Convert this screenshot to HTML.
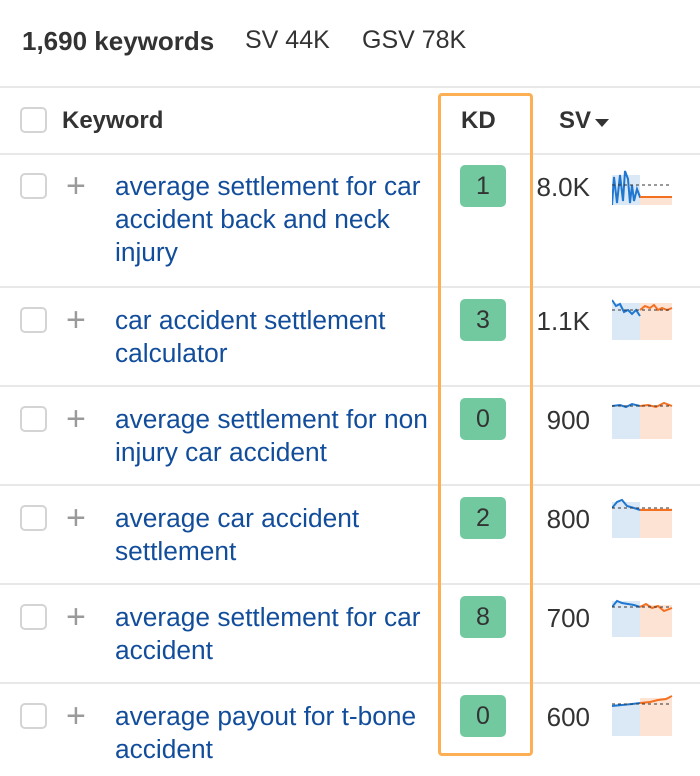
<!DOCTYPE html>
<html><head><meta charset="utf-8"><style>
*{margin:0;padding:0;box-sizing:border-box}
body{width:700px;height:776px;background:#fff;font-family:"Liberation Sans",Arial,sans-serif;position:relative;overflow:hidden;color:#333}
.a{position:absolute}
.hr{position:absolute;left:0;width:700px;height:2px;background:#e8e8e8}
.cb{position:absolute;left:20px;width:27px;height:26px;border:2px solid #d4d4d4;border-radius:5px;background:#fff}
.pl{position:absolute;left:66px;font-size:34px;color:#9a9a9a;line-height:30px;font-weight:300}
.kw{position:absolute;left:115px;font-size:26.3px;line-height:33px;color:#124d9b}
.kd{position:absolute;left:460px;width:46px;height:42px;background:#72c9a0;border-radius:5px;font-size:25px;line-height:42px;text-align:center;color:#333}
.sv{position:absolute;right:110px;font-size:26px;color:#333}
.sp{position:absolute;left:612px}
</style></head><body>
<div class="a" style="left:22px;top:26px;font-size:26px;font-weight:bold">1,690 keywords</div>
<div class="a" style="left:245px;top:26px;font-size:25px">SV 44K</div>
<div class="a" style="left:362px;top:26px;font-size:25px">GSV 78K</div>
<div class="hr" style="top:86px"></div>
<div class="cb" style="top:107px"></div>
<div class="a" style="left:62px;top:107px;font-size:24px;font-weight:bold">Keyword</div>
<div class="a" style="left:461px;top:107px;font-size:24px;font-weight:bold">KD</div>
<div class="a" style="left:559px;top:107px;font-size:24px;font-weight:bold">SV</div>
<div class="a" style="left:595px;top:119px;width:0;height:0;border-left:7px solid transparent;border-right:7px solid transparent;border-top:8px solid #333"></div>
<div class="hr" style="top:153px"></div>
<div class="hr" style="top:286px"></div>
<div class="hr" style="top:385px"></div>
<div class="hr" style="top:484px"></div>
<div class="hr" style="top:583px"></div>
<div class="hr" style="top:682px"></div>

<div class="cb" style="top:173px"></div><div class="pl" style="top:171px">+</div>
<div class="kw" style="top:170px">average settlement for car<br>accident back and neck<br>injury</div>
<div class="kd" style="top:165px">1</div><div class="sv" style="top:172px">8.0K</div>
<svg class="sp" style="top:165px" width="62" height="42"><rect x="0" y="10" width="28" height="30" fill="#dbe9f7"/><rect x="28" y="32" width="32" height="8" fill="#fde3d3"/><path d="M0 40 L2 12 L5 38 L8 10 L11 36 L13 6 L16 14 L18 38 L20 20 L22 36 L25 24 L28 32 L60 32" stroke="#1f77d0" stroke-width="2" fill="none"/><path d="M28 32 L60 32" stroke="#f37021" stroke-width="2"/><path d="M0 20 L60 20" stroke="#333" stroke-dasharray="3 3" stroke-width="1"/></svg>

<div class="cb" style="top:307px"></div><div class="pl" style="top:305px">+</div>
<div class="kw" style="top:304px">car accident settlement<br>calculator</div>
<div class="kd" style="top:299px">3</div><div class="sv" style="top:306px">1.1K</div>
<svg class="sp" style="top:298px" width="62" height="42"><rect x="0" y="5" width="28" height="37" fill="#dbe9f7"/><rect x="28" y="5" width="32" height="37" fill="#fde3d3"/><path d="M0 2 L4 8 L8 6 L12 14 L16 12 L20 16 L24 12 L28 18" stroke="#1f77d0" stroke-width="2" fill="none"/><path d="M28 12 L33 8 L38 10 L42 7 L46 12 L50 10 L55 12 L60 10" stroke="#f37021" stroke-width="2" fill="none"/><path d="M0 12 L60 12" stroke="#333" stroke-dasharray="3 3"/></svg>

<div class="cb" style="top:406px"></div><div class="pl" style="top:404px">+</div>
<div class="kw" style="top:403px">average settlement for non<br>injury car accident</div>
<div class="kd" style="top:398px">0</div><div class="sv" style="top:405px">900</div>
<svg class="sp" style="top:397px" width="62" height="42"><rect x="0" y="8" width="28" height="34" fill="#dbe9f7"/><rect x="28" y="8" width="32" height="34" fill="#fde3d3"/><path d="M0 9 L8 8 L14 10 L20 7 L28 9" stroke="#1f77d0" stroke-width="2" fill="none"/><path d="M28 9 L36 8 L44 10 L52 6 L60 9" stroke="#f37021" stroke-width="2" fill="none"/><path d="M0 9 L60 9" stroke="#333" stroke-dasharray="3 3"/></svg>

<div class="cb" style="top:505px"></div><div class="pl" style="top:503px">+</div>
<div class="kw" style="top:502px">average car accident<br>settlement</div>
<div class="kd" style="top:497px">2</div><div class="sv" style="top:504px">800</div>
<svg class="sp" style="top:496px" width="62" height="42"><rect x="0" y="6" width="28" height="36" fill="#dbe9f7"/><rect x="28" y="12" width="32" height="30" fill="#fde3d3"/><path d="M0 12 L5 6 L10 4 L15 10 L22 12 L28 14" stroke="#1f77d0" stroke-width="2" fill="none"/><path d="M28 14 L60 14" stroke="#f37021" stroke-width="2" fill="none"/><path d="M0 12 L60 12" stroke="#333" stroke-dasharray="3 3"/></svg>

<div class="cb" style="top:604px"></div><div class="pl" style="top:602px">+</div>
<div class="kw" style="top:601px">average settlement for car<br>accident</div>
<div class="kd" style="top:596px">8</div><div class="sv" style="top:603px">700</div>
<svg class="sp" style="top:595px" width="62" height="42"><rect x="0" y="6" width="28" height="36" fill="#dbe9f7"/><rect x="28" y="10" width="32" height="32" fill="#fde3d3"/><path d="M0 12 L5 6 L10 8 L16 9 L22 10 L28 12" stroke="#1f77d0" stroke-width="2" fill="none"/><path d="M28 12 L34 9 L40 13 L46 11 L52 16 L60 13" stroke="#f37021" stroke-width="2" fill="none"/><path d="M0 12 L60 12" stroke="#333" stroke-dasharray="3 3"/></svg>

<div class="cb" style="top:703px"></div><div class="pl" style="top:701px">+</div>
<div class="kw" style="top:700px">average payout for t-bone<br>accident</div>
<div class="kd" style="top:695px">0</div><div class="sv" style="top:702px">600</div>
<svg class="sp" style="top:694px" width="62" height="42"><rect x="0" y="10" width="28" height="32" fill="#dbe9f7"/><rect x="28" y="4" width="32" height="38" fill="#fde3d3"/><path d="M0 12 L10 11 L20 10 L28 9" stroke="#1f77d0" stroke-width="2" fill="none"/><path d="M28 9 L38 8 L46 6 L54 5 L60 2" stroke="#f37021" stroke-width="2" fill="none"/><path d="M0 10 L60 10" stroke="#333" stroke-dasharray="3 3"/></svg>

<div class="a" style="left:438px;top:93px;width:95px;height:663px;border:3px solid #fcaf53;border-radius:4px"></div>
</body></html>
